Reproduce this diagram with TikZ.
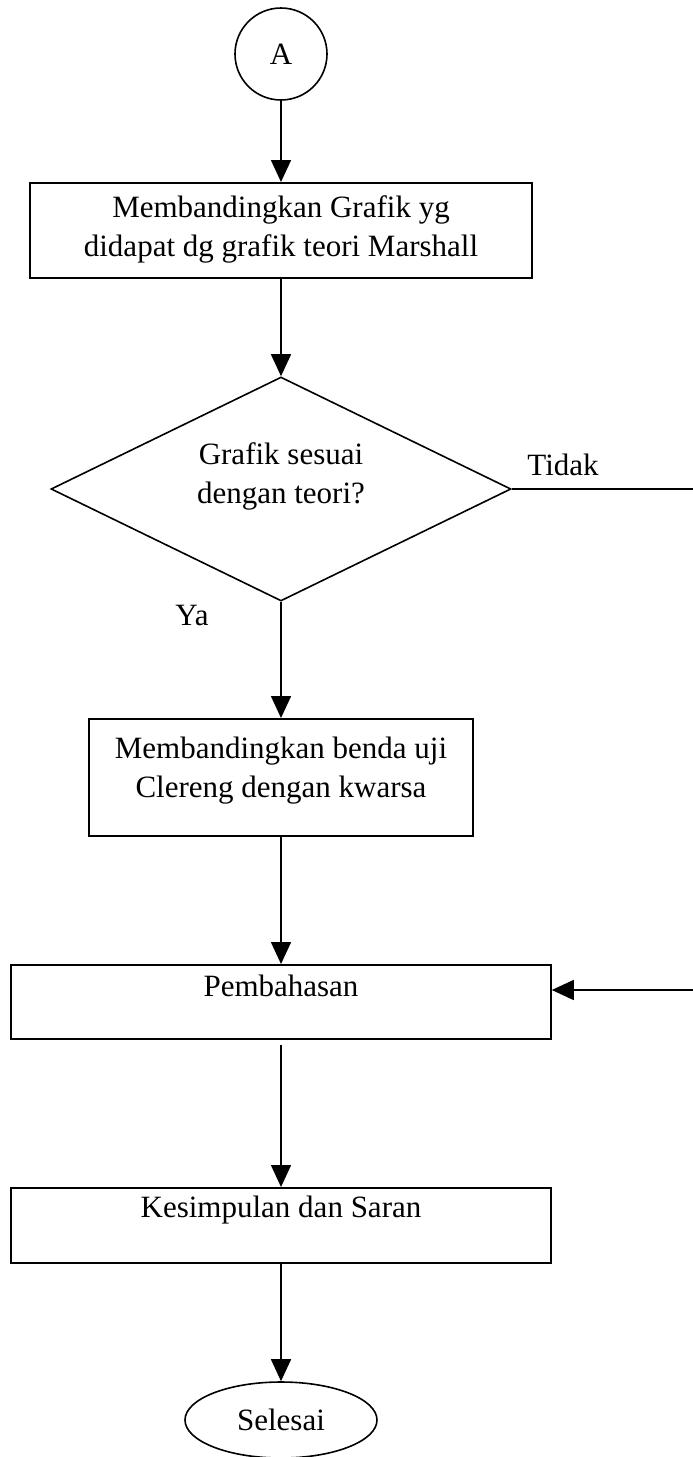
\documentclass[tikz,border=0pt]{standalone}
\usepackage{fontspec}
\setmainfont{Liberation Serif}
\usetikzlibrary{arrows.meta, shapes.geometric, positioning}

\begin{document}
\begin{tikzpicture}[x=1pt, y=1pt, line width=1.6pt,
    font=\fontsize{31}{39}\selectfont,
    arr/.style={-{Triangle[length=22pt, width=20pt]}},
    proc/.style={draw, rectangle, anchor=north, align=center, inner xsep=6pt, inner ysep=8pt}]
  \useasboundingbox (0, 0) rectangle (693, -1457);

  \node[draw, circle, minimum size=92pt, inner sep=0pt] (a) at (281, -54) {A};
  \node[proc, minimum width=502pt, text height=66pt, text depth=13pt] (b1) at (281, -182)
    {Membandingkan Grafik yg\\didapat dg grafik teori Marshall};
  \node[draw, diamond, aspect=2.05, minimum width=460pt, minimum height=224pt, inner sep=0pt,
    align=center, text height=60pt, text depth=32pt] (dec) at (281, -489)
    {Grafik sesuai\\dengan teori?};
  \node (tidak) at (563, -465) {Tidak};
  \node (ya) at (192, -615) {Ya};
  \node[proc, minimum width=384pt, text height=71pt, text depth=30pt] (b2) at (281, -718)
    {Membandingkan benda uji\\Clereng dengan kwarsa};
  \node[proc, minimum width=540pt, text height=24pt, text depth=34pt] (pemb) at (281, -964)
    {Pembahasan};
  \node[proc, minimum width=540pt, text height=22pt, text depth=37pt] (kes) at (281, -1187)
    {Kesimpulan dan Saran};
  \node[draw, ellipse, minimum width=192pt, minimum height=76pt, inner sep=0pt] (fin) at (281, -1420)
    {Selesai};

  \coordinate (rt) at (693, -489);
  \coordinate (rb) at (693, -990);

  \draw[arr] (a) -- (b1);
  \draw[arr] (b1) -- (dec);
  \draw[arr] (dec) -- (b2);
  \draw (dec.east) -- (rt);
  \draw[arr] (rb) -- (rb -| pemb.east);
  \draw[arr] (b2) -- (pemb);
  \draw[arr, shorten <=5pt] (pemb) -- (kes);
  \draw[arr] (kes) -- (fin);
\end{tikzpicture}
\end{document}
